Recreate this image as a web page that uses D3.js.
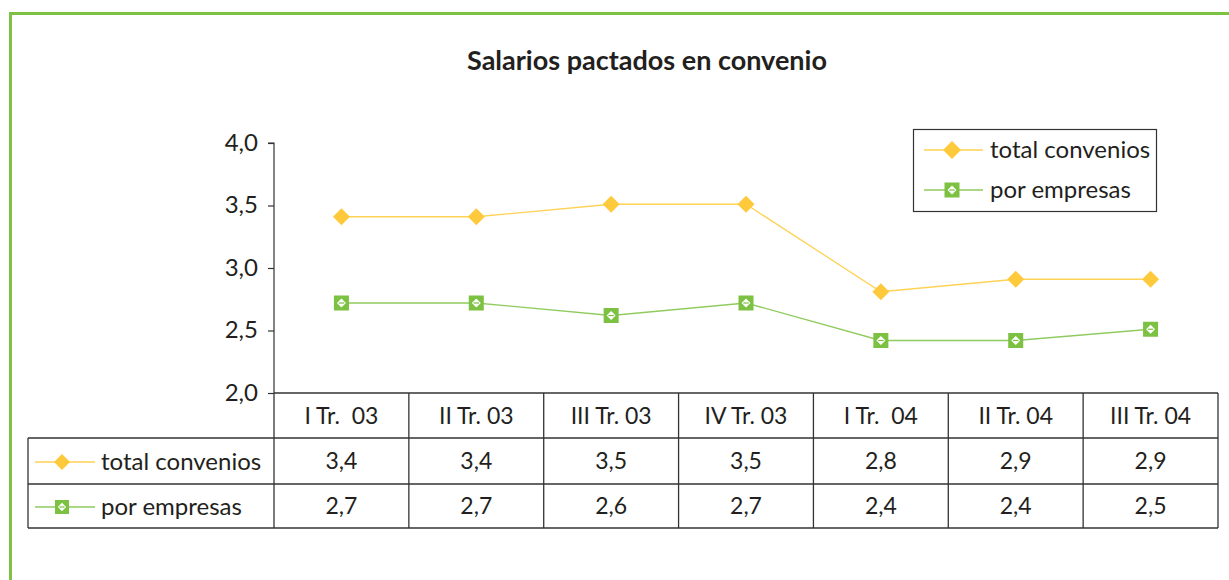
<!DOCTYPE html>
<html><head><meta charset="utf-8">
<script src="https://cdn.jsdelivr.net/npm/d3@7"></script>
<style>body{margin:0;background:#fff}svg{display:block}text{font-family:Lato,"Open Sans",sans-serif;fill:#231f20;white-space:pre}</style>
</head><body>
<script>
const categories = ["I Tr.  03","II Tr. 03","III Tr. 03","IV Tr. 03","I Tr.  04","II Tr. 04","III Tr. 04"];
const totalConvenios = [3.41,3.41,3.51,3.51,2.81,2.91,2.91];
const porEmpresas = [2.72,2.72,2.62,2.72,2.42,2.42,2.51];
const yTicks = [2.0,2.5,3.0,3.5,4.0];
const seriesNames = ["total convenios","por empresas"];
const title = "Salarios pactados en convenio";

const W=1229,H=580;
const svg=d3.select("body").append("svg").attr("width",W).attr("height",H);
const yellow="#ffc93c", yLine="#ffd255", green="#7cc142", gLine="#8fcb5e";

svg.append("path").attr("d",`M10.5,${H+5} V13.5 H${W+5}`).attr("fill","none").attr("stroke","#7dc242").attr("stroke-width",3);

svg.append("text").attr("x",647).attr("y",70).attr("text-anchor","middle")
  .style("font-weight","bold").style("font-size","27px").text(title);

const x0=274,x1=1218,yTop=143,yBot=393;
const x=d3.scaleBand().domain(categories).range([x0,x1]);
const y=d3.scaleLinear().domain([2,4]).range([yBot,yTop]);

const ax=svg.append("g").attr("transform",`translate(${x0},0)`)
  .call(d3.axisLeft(y).tickValues(yTicks).tickSize(6).tickPadding(10).tickFormat(d=>d3.format(".1f")(d).replace(".",",")));
ax.select(".domain").attr("stroke","#333").attr("stroke-width",1.2).attr("d",`M-6,${yTop}H0V${yBot}`);
ax.selectAll(".tick line").attr("stroke","#333").attr("stroke-width",1.2);
ax.selectAll(".tick text").style("font-size","24px").style("font-family","Lato,sans-serif").attr("fill","#231f20").attr("dy","0.3em");

const cx=d=>x(d)+x.bandwidth()/2;
const line=d3.line().x((d,i)=>cx(categories[i])).y(d=>y(d));

function diamond(g,px,py,s){
  g.append("path").attr("d",`M${px},${py-s}L${px+s},${py}L${px},${py+s}L${px-s},${py}Z`).attr("fill",yellow);
}
function sq(g,px,py,s){
  g.append("rect").attr("x",px-s).attr("y",py-s).attr("width",2*s).attr("height",2*s).attr("fill",green);
  const d=s*0.6;
  g.append("path").attr("d",`M${px},${py-d}L${px+d},${py}L${px},${py+d}L${px-d},${py}Z`).attr("fill","#fff");
  g.append("rect").attr("x",px-d*0.6).attr("y",py-0.6).attr("width",d*1.2).attr("height",1.2).attr("fill",green);
}

svg.append("path").datum(totalConvenios).attr("d",line).attr("fill","none").attr("stroke",yLine).attr("stroke-width",1.3);
svg.append("path").datum(porEmpresas).attr("d",line).attr("fill","none").attr("stroke",gLine).attr("stroke-width",1.3);
const mk=svg.append("g");
totalConvenios.forEach((v,i)=>diamond(mk,cx(categories[i]),y(v),8.5));
porEmpresas.forEach((v,i)=>sq(mk,cx(categories[i]),y(v),7.5));

const lg=svg.append("g");
lg.append("rect").attr("x",913.5).attr("y",129.5).attr("width",243).attr("height",82).attr("fill","#fff").attr("stroke","#333").attr("stroke-width",1.2);
[[150,"y"],[190,"g"]].forEach(([ly,t],i)=>{
  lg.append("line").attr("x1",924).attr("x2",983).attr("y1",ly).attr("y2",ly).attr("stroke",t=="y"?yLine:gLine).attr("stroke-width",1.3);
  if(t=="y") diamond(lg,952,ly,9); else sq(lg,952,ly,7.5);
  lg.append("text").attr("x",990).attr("y",ly).attr("dy","0.35em").style("font-size","24px").text(seriesNames[i]);
});

const tb=svg.append("g");
const rows=[393,438,484,528];
const st=s=>s.attr("stroke","#333").attr("stroke-width",1.3);
st(tb.append("line").attr("x1",x0).attr("x2",x1).attr("y1",rows[0]).attr("y2",rows[0]));
[1,2,3].forEach(r=>st(tb.append("line").attr("x1",28).attr("x2",x1).attr("y1",rows[r]).attr("y2",rows[r])));
st(tb.append("line").attr("x1",28).attr("x2",28).attr("y1",rows[1]).attr("y2",rows[3]));
categories.forEach(c=>st(tb.append("line").attr("x1",x(c)).attr("x2",x(c)).attr("y1",rows[0]).attr("y2",rows[3])));
st(tb.append("line").attr("x1",x1).attr("x2",x1).attr("y1",rows[0]).attr("y2",rows[3]));
const fmt=v=>d3.format(".1f")(v).replace(".",",");
categories.forEach((c,i)=>{
  tb.append("text").attr("x",cx(c)).attr("y",(rows[0]+rows[1])/2).attr("dy","0.35em").attr("text-anchor","middle").style("font-size","23px").text(c);
  tb.append("text").attr("x",cx(c)).attr("y",(rows[1]+rows[2])/2).attr("dy","0.35em").attr("text-anchor","middle").style("font-size","23px").text(fmt(totalConvenios[i]));
  tb.append("text").attr("x",cx(c)).attr("y",(rows[2]+rows[3])/2).attr("dy","0.35em").attr("text-anchor","middle").style("font-size","23px").text(fmt(porEmpresas[i]));
});
[[462,"y"],[507,"g"]].forEach(([ly,t],i)=>{
  tb.append("line").attr("x1",35).attr("x2",95).attr("y1",ly).attr("y2",ly).attr("stroke",t=="y"?yLine:gLine).attr("stroke-width",1.3);
  if(t=="y") diamond(tb,62,ly,8); else sq(tb,62,ly,7);
  tb.append("text").attr("x",101).attr("y",ly).attr("dy","0.35em").style("font-size","24px").text(seriesNames[i]);
});
</script>
</body></html>
